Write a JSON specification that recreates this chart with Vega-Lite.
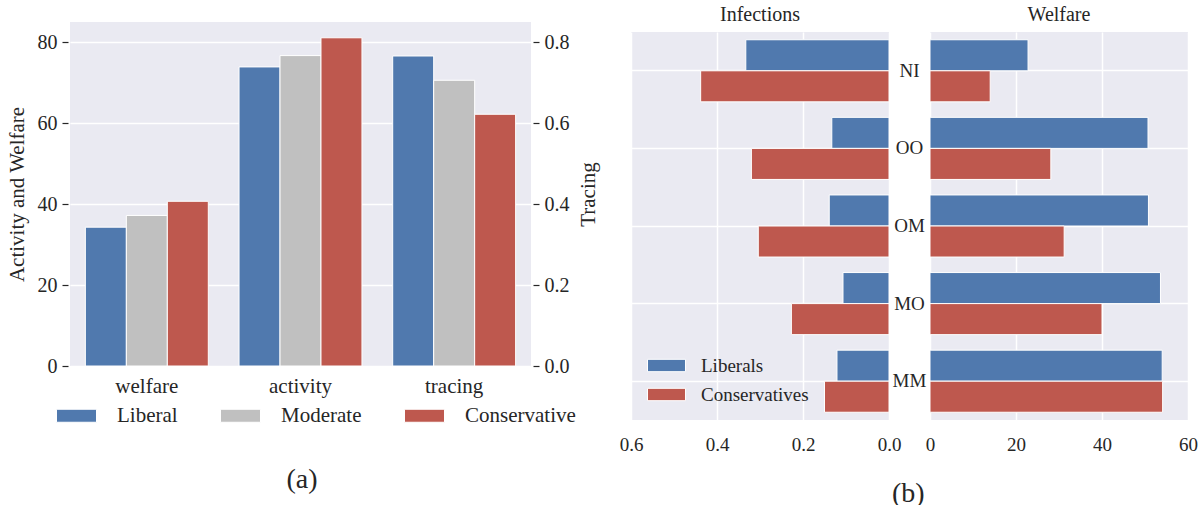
{
  "$schema": "https://vega.github.io/schema/vega-lite/v6.json",
  "background": "white",
  "padding": {"left": 6, "top": 5, "right": 2, "bottom": 0},
  "config": {
    "font": "Liberation Serif",
    "view": {"stroke": null, "fill": "#EAEAF2"},
    "axis": {"labelFont": "Liberation Serif", "titleFont": "Liberation Serif", "labelColor": "#262626", "titleColor": "#262626", "gridColor": "white", "gridWidth": 1.5, "domain": false, "titleFontWeight": "normal", "labelFontWeight": "normal"},
    "legend": {"labelFont": "Liberation Serif", "labelColor": "#262626", "symbolStrokeColor": "white", "symbolStrokeWidth": 1, "symbolOpacity": 1},
    "title": {"font": "Liberation Serif", "fontWeight": "normal", "color": "#262626"}
  },
  "datasets": {
    "a": [
      {"metric": "welfare", "leaning": "Liberal", "value": 34.3},
      {"metric": "welfare", "leaning": "Moderate", "value": 37.2},
      {"metric": "welfare", "leaning": "Conservative", "value": 40.7},
      {"metric": "activity", "leaning": "Liberal", "value": 73.9},
      {"metric": "activity", "leaning": "Moderate", "value": 76.7},
      {"metric": "activity", "leaning": "Conservative", "value": 81.1},
      {"metric": "tracing", "leaning": "Liberal", "value": 0.766},
      {"metric": "tracing", "leaning": "Moderate", "value": 0.706},
      {"metric": "tracing", "leaning": "Conservative", "value": 0.622}
    ],
    "b": [
      {"scenario": "NI", "group": "Liberals", "infections": 0.333, "welfare": 22.8},
      {"scenario": "NI", "group": "Conservatives", "infections": 0.438, "welfare": 14.0},
      {"scenario": "OO", "group": "Liberals", "infections": 0.133, "welfare": 50.7},
      {"scenario": "OO", "group": "Conservatives", "infections": 0.320, "welfare": 28.1},
      {"scenario": "OM", "group": "Liberals", "infections": 0.139, "welfare": 50.8},
      {"scenario": "OM", "group": "Conservatives", "infections": 0.304, "welfare": 31.2},
      {"scenario": "MO", "group": "Liberals", "infections": 0.107, "welfare": 53.6},
      {"scenario": "MO", "group": "Conservatives", "infections": 0.227, "welfare": 40.0},
      {"scenario": "MM", "group": "Liberals", "infections": 0.121, "welfare": 54.0},
      {"scenario": "MM", "group": "Conservatives", "infections": 0.150, "welfare": 54.1}
    ]
  },
  "bounds": "full",
  "spacing": 21,
  "resolve": {"scale": {"color": "independent"}, "legend": {"color": "independent"}},
  "hconcat": [
    {
      "title": {"text": "(a)", "orient": "bottom", "anchor": "middle", "fontSize": 28, "offset": 40},
      "resolve": {"scale": {"color": "independent"}, "legend": {"color": "independent"}},
      "vconcat": [
        {
          "width": 461,
          "height": 344,
          "data": {"name": "a"},
          "encoding": {
            "x": {"field": "metric", "type": "nominal", "sort": ["welfare", "activity", "tracing"],
                  "scale": {"paddingInner": 0.2, "paddingOuter": 0.1},
                  "axis": {"title": null, "labelAngle": 0, "ticks": false, "tickSize": 0, "labelPadding": 9, "labelFontSize": 21, "grid": false}},
            "xOffset": {"field": "leaning", "type": "nominal", "sort": ["Liberal", "Moderate", "Conservative"],
                        "scale": {"paddingInner": 0, "paddingOuter": 0}},
            "color": {"field": "leaning", "type": "nominal",
                      "scale": {"domain": ["Liberal", "Moderate", "Conservative"], "range": ["#5079AE", "#C0C0C0", "#BE584E"]},
                      "legend": {"title": null, "orient": "none", "direction": "horizontal", "legendX": -4, "legendY": 383,
                                 "symbolType": "M-2.5,-0.8125H2.5V0.8125H-2.5Z", "symbolSize": 256,
                                 "labelFontSize": 21, "labelOffset": 30, "columnPadding": 40}}
          },
          "layer": [
            {
              "transform": [{"filter": "datum.metric !== 'tracing'"}],
              "mark": {"type": "bar", "stroke": "white", "strokeWidth": 1},
              "encoding": {
                "y": {"field": "value", "type": "quantitative", "scale": {"domain": [0, 85], "nice": false},
                      "axis": {"orient": "left", "title": "Activity and Welfare", "values": [0, 20, 40, 60, 80],
                               "grid": true, "ticks": true, "tickSize": 6, "tickColor": "#262626", "tickWidth": 1.2, "offset": 2,
                               "labelPadding": 5, "labelFontSize": 20, "titleFontSize": 21, "titlePadding": 10}}
              }
            },
            {
              "transform": [{"filter": "datum.metric === 'tracing'"}],
              "mark": {"type": "bar", "stroke": "white", "strokeWidth": 1},
              "encoding": {
                "y": {"field": "value", "type": "quantitative", "scale": {"domain": [0, 0.85], "nice": false},
                      "axis": {"orient": "right", "title": "Tracing", "titleAngle": 270, "titleBaseline": "top", "values": [0, 0.2, 0.4, 0.6, 0.8], "format": ".1f",
                               "grid": false, "ticks": true, "tickSize": 6, "tickColor": "#262626", "tickWidth": 1.2, "offset": 2,
                               "labelPadding": 5, "labelFontSize": 20, "titleFontSize": 21, "titlePadding": 8}}
              }
            }
          ],
          "resolve": {"scale": {"y": "independent"}}
        }
      ]
    },
    {
      "title": {"text": "(b)", "orient": "bottom", "anchor": "middle", "fontSize": 28, "offset": 26},
      "bounds": "flush",
      "spacing": 10,
      "resolve": {"scale": {"color": "independent"}, "legend": {"color": "independent"}},
      "vconcat": [
        {
          "bounds": "flush",
          "spacing": 41,
          "hconcat": [
            {
              "title": {"text": "Infections", "fontSize": 20, "offset": -3},
              "width": 258, "height": 1,
              "view": {"fill": null, "stroke": null},
              "data": {"values": []},
              "mark": {"type": "rule"},
              "encoding": {}
            },
            {
              "title": {"text": "Welfare", "fontSize": 20, "offset": -3},
              "width": 258, "height": 1,
              "view": {"fill": null, "stroke": null},
              "data": {"values": []},
              "mark": {"type": "rule"},
              "encoding": {}
            }
          ]
        },
        {
          "bounds": "flush",
          "spacing": 41,
          "resolve": {"scale": {"color": "independent"}, "legend": {"color": "independent"}},
          "hconcat": [
            {
              "width": 258,
              "height": 388,
              "data": {"name": "b"},
              "mark": {"type": "bar", "stroke": "white", "strokeWidth": 1},
              "encoding": {
                "y": {"field": "scenario", "type": "nominal", "sort": ["NI", "OO", "OM", "MO", "MM"],
                      "scale": {"paddingInner": 0.2, "paddingOuter": 0.1},
                      "axis": {"orient": "right", "title": null, "ticks": false, "tickSize": 0, "labelAlign": "center", "labelPadding": 20,
                               "labelFontSize": 19, "grid": true}},
                "yOffset": {"field": "group", "type": "nominal", "sort": ["Liberals", "Conservatives"], "scale": {"paddingInner": 0, "paddingOuter": 0}},
                "x": {"field": "infections", "type": "quantitative", "scale": {"domain": [0, 0.6], "reverse": true, "nice": false},
                      "axis": {"title": null, "values": [0, 0.2, 0.4, 0.6], "format": ".1f", "ticks": false, "tickSize": 0, "labelPadding": 15,
                               "labelFontSize": 19, "labelFlush": false, "grid": true}},
                "color": {"field": "group", "type": "nominal",
                          "scale": {"domain": ["Liberals", "Conservatives"], "range": ["#5079AE", "#BE584E"]},
                          "legend": {"title": null, "orient": "none", "direction": "vertical", "legendX": 26, "legendY": 324,
                                     "symbolType": "M-2.5,-0.8125H2.5V0.8125H-2.5Z", "symbolSize": 231,
                                     "labelFontSize": 19, "labelOffset": 25, "rowPadding": 9}}
              }
            },
            {
              "width": 258,
              "height": 388,
              "data": {"name": "b"},
              "mark": {"type": "bar", "stroke": "white", "strokeWidth": 1},
              "encoding": {
                "y": {"field": "scenario", "type": "nominal", "sort": ["NI", "OO", "OM", "MO", "MM"],
                      "scale": {"paddingInner": 0.2, "paddingOuter": 0.1},
                      "axis": {"title": null, "labels": false, "ticks": false, "tickSize": 0, "grid": true}},
                "yOffset": {"field": "group", "type": "nominal", "sort": ["Liberals", "Conservatives"], "scale": {"paddingInner": 0, "paddingOuter": 0}},
                "x": {"field": "welfare", "type": "quantitative", "scale": {"domain": [0, 60], "nice": false},
                      "axis": {"title": null, "values": [0, 20, 40, 60], "format": "d", "ticks": false, "tickSize": 0, "labelPadding": 15,
                               "labelFontSize": 19, "labelFlush": false, "grid": true}},
                "color": {"field": "group", "type": "nominal",
                          "scale": {"domain": ["Liberals", "Conservatives"], "range": ["#5079AE", "#BE584E"]},
                          "legend": null}
              }
            }
          ]
        }
      ]
    }
  ]
}
